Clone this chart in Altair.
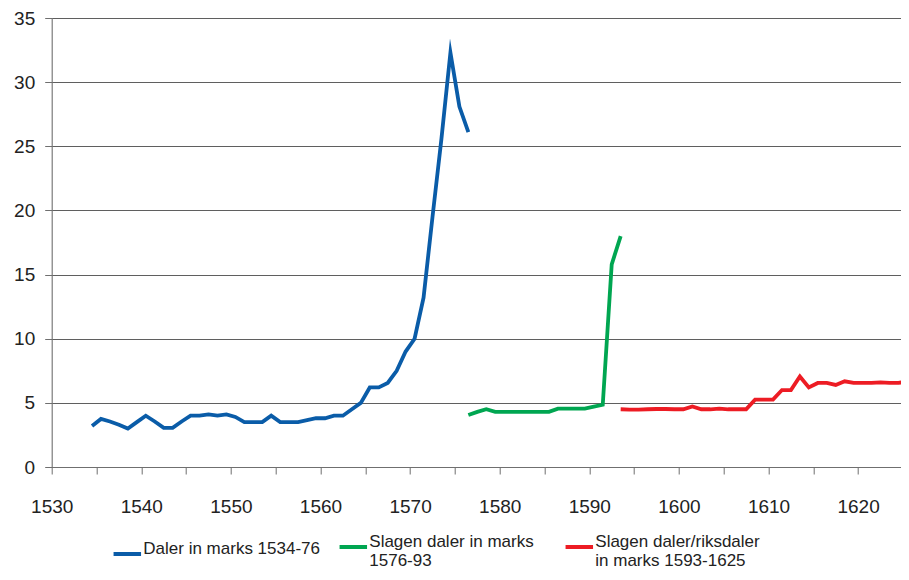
import altair as alt
import pandas as pd

# ---- data ----
blue_name = "Daler in marks 1534-76"
green_name = "Slagen daler in marks|1576-93"
red_name = "Slagen daler/riksdaler|in marks 1593-1625"

blue_years = list(range(1534, 1577))
blue_values = [3.2, 3.75, 3.55, 3.3, 3.0, 3.5, 4.0, 3.55, 3.05, 3.05,
               3.55, 4.0, 4.0, 4.1, 4.0, 4.1, 3.9, 3.5, 3.5, 3.5,
               4.0, 3.5, 3.5, 3.5, 3.65, 3.8, 3.8, 4.0, 4.0, 4.5,
               5.0, 6.2, 6.2, 6.55, 7.5, 9.0, 10.0, 13.2, 19.5, 25.6,
               32.3, 28.1, 26.1]

green_years = list(range(1576, 1594))
green_values = [4.05, 4.3, 4.5, 4.3, 4.3, 4.3, 4.3, 4.3, 4.3, 4.3,
                4.55, 4.55, 4.55, 4.55, 4.7, 4.85, 15.8, 18.0]

red_years = list(range(1593, 1626))
red_values = [4.5, 4.48, 4.48, 4.5, 4.52, 4.52, 4.5, 4.5, 4.72, 4.5,
              4.5, 4.55, 4.5, 4.5, 4.5, 5.25, 5.25, 5.25, 6.0, 6.0,
              7.05, 6.2, 6.55, 6.55, 6.4, 6.68, 6.55, 6.55, 6.55, 6.6,
              6.55, 6.55, 6.68]

series_names = [blue_name, green_name, red_name]
series_colors = ["#0A5CA8", "#00A651", "#ED1C24"]

x_ticks = list(range(1530, 1626, 5))
y_ticks = list(range(0, 36, 5))

rows = []
for name, ys, vs in [(blue_name, blue_years, blue_values),
                     (green_name, green_years, green_values),
                     (red_name, red_years, red_values)]:
    for y, v in zip(ys, vs):
        rows.append({"series": name, "year": y, "value": v})
df = pd.DataFrame(rows)

FONT = "Liberation Sans"

chart = (
    alt.Chart(df)
    .transform_calculate(xpos="datum.year + 0.5")
    .mark_line(strokeWidth=3.8, strokeJoin="miter", strokeMiterLimit=10)
    .encode(
        x=alt.X(
            "xpos:Q",
            scale=alt.Scale(domain=[1530, 1625.5], nice=False, zero=False),
            axis=alt.Axis(
                values=x_ticks,
                format="d",
                labelExpr="datum.value % 10 == 0 ? datum.label : ''",
                grid=False,
                title=None,
                tickSize=7,
                labelPadding=23,
                labelFontSize=19,
                labelFont=FONT,
                labelColor="#222222",
                domainColor="#6f6f6f",
                tickColor="#6f6f6f",
                labelFlush=False,
            ),
        ),
        y=alt.Y(
            "value:Q",
            scale=alt.Scale(domain=[0, 35], nice=False),
            axis=alt.Axis(
                values=y_ticks,
                grid=True,
                gridColor="#5f5f5f",
                gridWidth=1,
                title=None,
                tickSize=7,
                labelPadding=10,
                labelFontSize=19,
                labelFont=FONT,
                labelColor="#222222",
                domainColor="#6f6f6f",
                tickColor="#6f6f6f",
            ),
        ),
        color=alt.Color(
            "series:N",
            scale=alt.Scale(domain=series_names, range=series_colors),
            sort=series_names,
            legend=alt.Legend(
                title=None,
                orient="none",
                legendX=59.6,
                legendY=513,
                direction="horizontal",
                columns=3,
                gridAlign="all",
                columnPadding=11,
                symbolType="stroke",
                symbolSize=756,
                symbolStrokeWidth=4,
                labelOffset=0,
                labelBaseline="alphabetic",
                labelFontSize=17,
                labelFont=FONT,
                labelColor="#222222",
                labelLimit=400,
                labelExpr="split(datum.label, '|')",
                padding=0,
            ),
        ),
        detail="series:N",
    )
    .properties(
        width=855.7,
        height=449,
        autosize=alt.AutoSizeParams(type="none"),
        padding={"left": 43.7, "top": 10, "right": -6.4, "bottom": 105},
    )
    .configure_view(stroke=None)
    .configure(background="white")
)

chart.save("out.html", embed_options={"renderer": "svg", "actions": False})
